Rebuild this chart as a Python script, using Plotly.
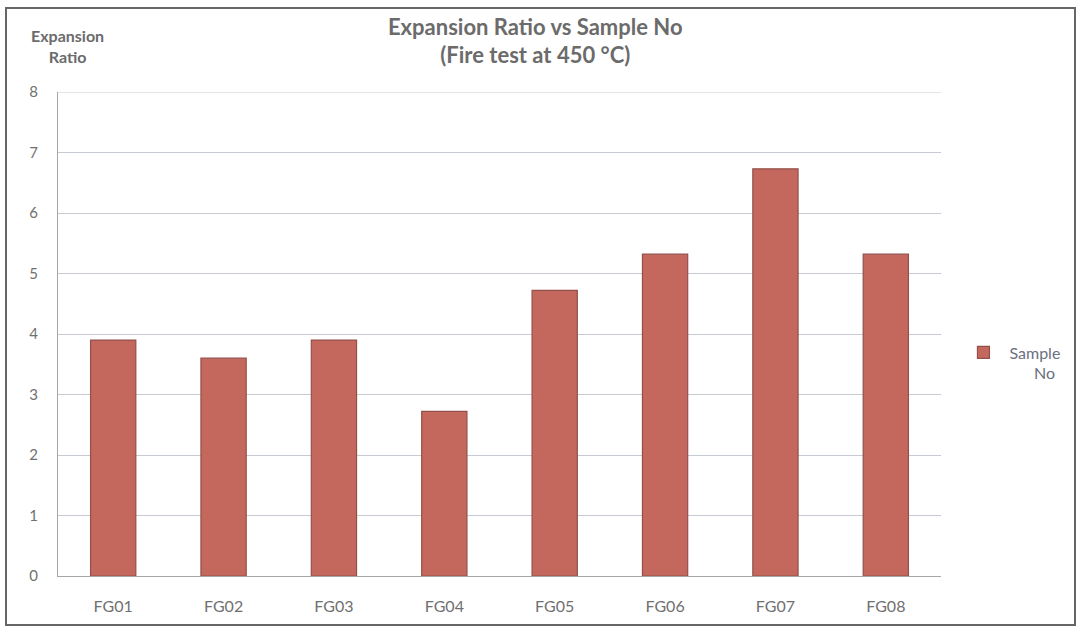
import plotly.graph_objects as go

categories = ["FG01", "FG02", "FG03", "FG04", "FG05", "FG06", "FG07", "FG08"]
expansion_ratio = [3.9, 3.6, 3.9, 2.72, 4.72, 5.32, 6.73, 5.32]
y_ticks = [0, 1, 2, 3, 4, 5, 6, 7, 8]

FONT = "Lato"
GRAY = "#707070"
GRID = "#c5cad3"

# plot area in pixels: x 58..941, y 92..576
def px_x(p):
    return (p - 58) / 883

def px_y(p):
    return (576 - p) / 484

fig = go.Figure()
fig.add_trace(go.Bar(
    x=categories,
    y=expansion_ratio,
    name="Sample<br>&nbsp;&nbsp;&nbsp;&nbsp;&nbsp;&nbsp;No",
    marker=dict(color="#c4685d", line=dict(color="#93504b", width=1.2)),
    showlegend=True,
))

fig.update_layout(
    width=1077, height=629,
    margin=dict(l=58, r=136, t=92, b=53),
    paper_bgcolor="white", plot_bgcolor="white",
    bargap=0.59,
    font=dict(family=FONT, color=GRAY, size=13),
    title=dict(
        text="<b>Expansion Ratio vs Sample No</b><br><b>(Fire test at 450 °C)</b>",
        x=0.497, xref="container", xanchor="center",
        y=0.945, yref="container", yanchor="top",
        font=dict(family=FONT, size=22, color="#6b6b6b"),
    ),
    showlegend=True,
    legend=dict(
        xref="container", yref="container",
        x=0.889, y=0.423, xanchor="left", yanchor="middle",
        valign="top",
        font=dict(family=FONT, size=16, color="#6b7080"),
        itemwidth=42,
    ),
    annotations=[dict(
        text="<b>Expansion<br>Ratio</b>",
        xref="paper", yref="paper",
        x=px_x(67), y=px_y(24), xanchor="center", yanchor="top",
        showarrow=False, align="center",
        font=dict(family=FONT, size=16, color="#6b6b6b"),
    )],
    shapes=[
        dict(
            type="rect", xref="paper", yref="paper",
            x0=px_x(6), x1=px_x(1075),
            y0=px_y(625), y1=px_y(8),
            line=dict(color="#666666", width=2),
            layer="below",
        ),
        dict(
            type="line", xref="paper", yref="y",
            x0=0, x1=1, y0=y_ticks[-1], y1=y_ticks[-1],
            line=dict(color=GRID, width=1),
            layer="below",
        ),
    ],
)

fig.update_xaxes(
    showline=True, linecolor="#a6a6a6", linewidth=1,
    ticks="", ticklabelstandoff=16,
    tickfont=dict(size=16, color=GRAY),
)
fig.update_yaxes(
    range=[0, 8], tickvals=y_ticks,
    showgrid=True, gridcolor=GRID, gridwidth=1,
    showline=True, linecolor="#a6a6a6", linewidth=1,
    zeroline=False,
    ticks="", ticklabelstandoff=16,
    tickfont=dict(size=15, color=GRAY),
)

fig.write_html("out.html")
